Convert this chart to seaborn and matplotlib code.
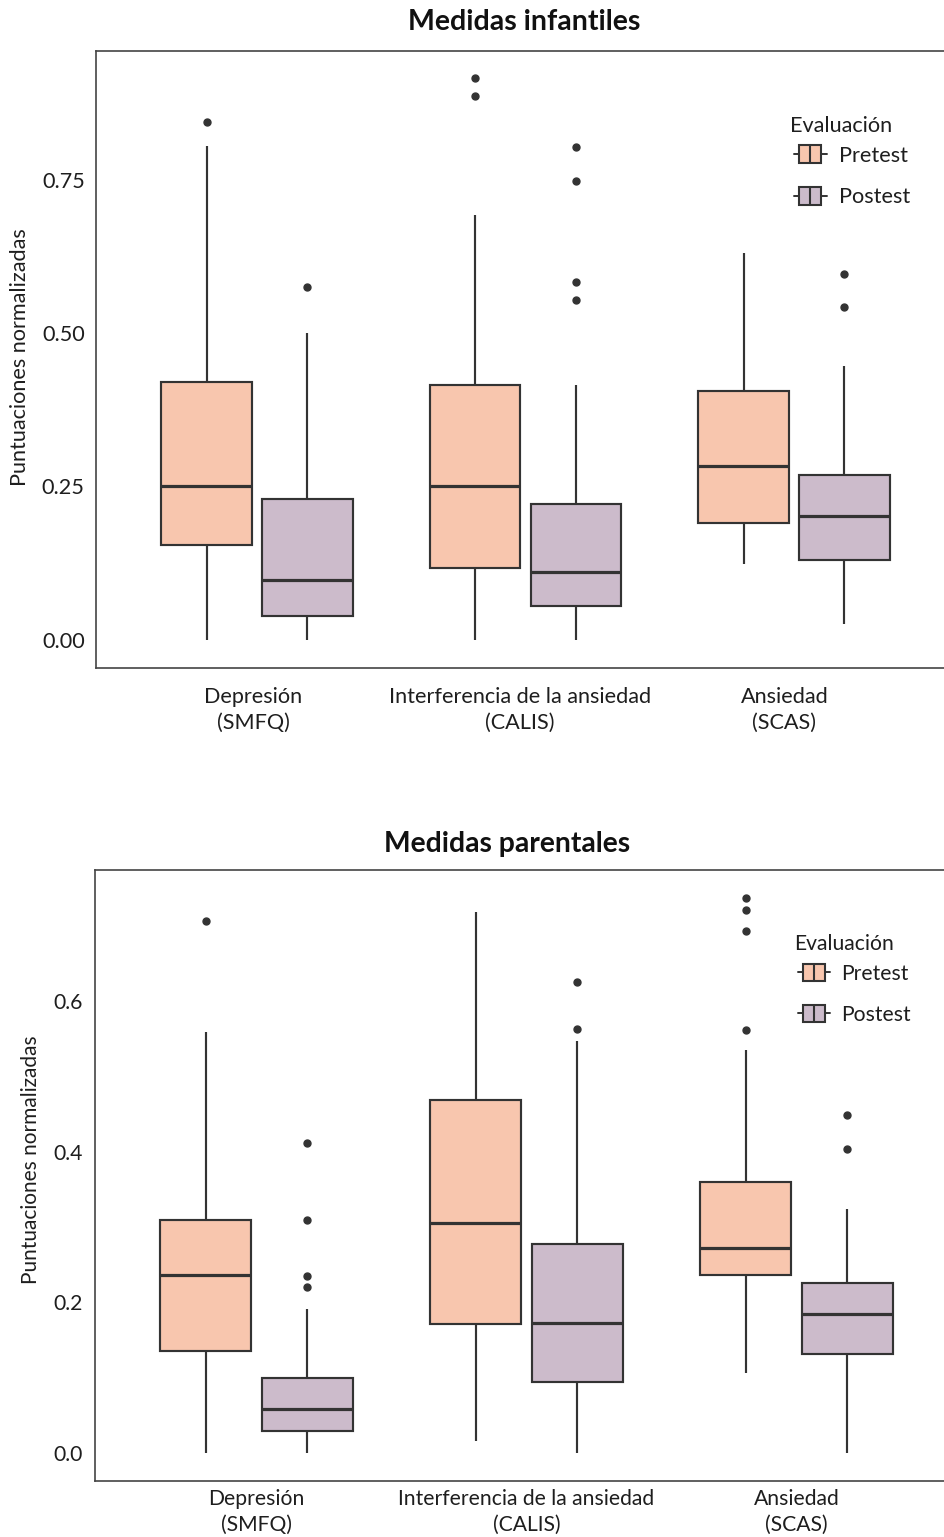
import numpy as np
import pandas as pd
import matplotlib
matplotlib.use("Agg")
import matplotlib.pyplot as plt
import seaborn as sns
from matplotlib.legend_handler import HandlerBase
from matplotlib.patches import Rectangle, Patch
from matplotlib.lines import Line2D
from matplotlib.transforms import ScaledTranslation

# ---------------- data ----------------
categories = ["Depresión\n(SMFQ)", "Interferencia de la ansiedad\n(CALIS)", "Ansiedad\n(SCAS)"]
groups = ["Pretest", "Postest"]
colors = ["#F8C6AE", "#CCBBCB"]

# Medidas infantiles: per category -> [Pretest, Postest]
inf_low = [[0.000, 0.000], [0.000, 0.000], [0.123, 0.026]]
inf_q1 = [[0.154, 0.038], [0.117, 0.054], [0.191, 0.130]]
inf_med = [[0.250, 0.097], [0.250, 0.110], [0.284, 0.202]]
inf_q3 = [[0.421, 0.230], [0.415, 0.222], [0.405, 0.269]]
inf_high = [[0.806, 0.500], [0.693, 0.416], [0.631, 0.446]]
inf_out = [[[0.845], [0.576]],
           [[0.888, 0.916], [0.555, 0.583, 0.749, 0.804]],
           [[], [0.543, 0.596]]]

# Medidas parentales
par_low = [[0.000, 0.000], [0.016, 0.000], [0.106, 0.000]]
par_q1 = [[0.136, 0.029], [0.172, 0.094], [0.237, 0.132]]
par_med = [[0.236, 0.059], [0.306, 0.173], [0.272, 0.185]]
par_q3 = [[0.309, 0.100], [0.469, 0.278], [0.360, 0.226]]
par_high = [[0.559, 0.191], [0.718, 0.547], [0.535, 0.324]]
par_out = [[[0.706], [0.221, 0.235, 0.309, 0.412]],
           [[], [0.563, 0.625]],
           [[0.561, 0.693, 0.720, 0.737], [0.404, 0.448]]]


def build_frame(low, q1, med, q3, high, out):
    """Rebuild observations whose box-plot statistics equal the read values."""
    rows = []
    for ci, cat in enumerate(categories):
        for gi, grp in enumerate(groups):
            vals = ([low[ci][gi]] + [q1[ci][gi]] * 20 + [med[ci][gi]] * 10 +
                    [q3[ci][gi]] * 20 + [high[ci][gi]] + list(out[ci][gi]))
            rows += [(cat, grp, v) for v in vals]
    return pd.DataFrame(rows, columns=["Medida", "Evaluación", "Puntuación"])


df_inf = build_frame(inf_low, inf_q1, inf_med, inf_q3, inf_high, inf_out)
df_par = build_frame(par_low, par_q1, par_med, par_q3, par_high, par_out)

# ---------------- style ----------------
sns.set_style("white")
FONT = ["Lato", "DejaVu Sans"]
plt.rcParams["font.family"] = FONT
LINE = "#333333"
SPINE = "#444444"
TEXT = "#1e1e1e"

W, H = 945, 1537
fig = plt.figure(figsize=(W / 100, H / 100), dpi=100)


def px_axes(left, right, top, bottom):
    return fig.add_axes([left / W, 1 - bottom / H, (right - left) / W, (bottom - top) / H])


class BoxKey(HandlerBase):
    shift = 3.0  # leading blank (points) before the key glyph

    def create_artists(self, legend, orig_handle, xdescent, ydescent, width, height, fontsize, trans):
        fc = orig_handle.get_facecolor()
        x0 = -xdescent + self.shift
        x1 = width - xdescent
        cx = (x0 + x1) / 2
        cy = height / 2 - ydescent
        bw = (x1 - x0) * 0.68
        bh = height * 1.1
        wl = Line2D([x0, x1], [cy, cy], color=LINE, lw=1.4, transform=trans)
        rect = Rectangle((cx - bw / 2, cy - bh / 2), bw, bh, facecolor=fc, edgecolor=LINE,
                         lw=1.5, transform=trans)
        ml = Line2D([cx, cx], [cy - bh / 2, cy + bh / 2], color=LINE, lw=1.5, transform=trans)
        return [wl, rect, ml]


def draw_panel(ax, df, ylim, yticks, ytick_labels, fs, legend_xy):
    sns.boxplot(data=df, x="Medida", y="Puntuación", hue="Evaluación",
                order=categories, hue_order=groups, palette=colors, saturation=1,
                width=0.75, gap=0.1, linecolor=LINE, linewidth=1.55,
                fliersize=5, showcaps=False,
                flierprops=dict(marker="o", markerfacecolor=LINE, markeredgecolor=LINE),
                medianprops=dict(linewidth=2.3, color=LINE),
                legend=False, ax=ax)
    ax.set_xlim(-0.6, 2.6)
    ax.set_ylim(*ylim)
    ax.set_yticks(yticks)
    ax.set_yticklabels(ytick_labels)
    ax.set_xlabel("")
    ax.set_ylabel("")
    for s in ax.spines.values():
        s.set_visible(True)
        s.set_color(SPINE)
        s.set_linewidth(1.2)
    ax.tick_params(axis="both", which="both", length=3.6, width=1.2, color=SPINE,
                   labelsize=fs, labelcolor=TEXT, direction="out")
    ax.tick_params(axis="y", pad=4.5)
    for lab in ax.get_xticklabels():
        lab.set_linespacing(1.36)
    handles = [Patch(facecolor=c, edgecolor=LINE, label=g) for g, c in zip(groups, colors)]
    leg = ax.legend(handles=handles, title="Evaluación", loc="upper left",
                    bbox_to_anchor=(legend_xy[0] / W, 1 - legend_xy[1] / H),
                    bbox_transform=fig.transFigure, frameon=False, fontsize=fs,
                    title_fontsize=fs, handler_map={Patch: BoxKey()},
                    handlelength=1.5 + BoxKey.shift / fs, handleheight=0.75,
                    handletextpad=0.55, labelspacing=1.0, borderpad=0,
                    borderaxespad=0, alignment="left")
    leg._legend_box.sep = 7.0
    for t in leg.get_texts():
        t.set_color(TEXT)
    leg.get_title().set_color(TEXT)


# ---------------- top panel ----------------
ax1 = px_axes(96, 955, 50.5, 667.5)
draw_panel(ax1, df_inf, (-0.0457, 0.9615), [0, 0.25, 0.5, 0.75],
           ["0.00", "0.25", "0.50", "0.75"], 15.6, (790, 116))
ax1.tick_params(axis="x", pad=10.5)
for lab, dx in zip(ax1.get_xticklabels(), [-3.5, -5.5, -9.5]):
    lab.set_transform(lab.get_transform() + ScaledTranslation(dx / 100, 0, fig.dpi_scale_trans))
fig.text(524 / W, 1 - 30 / H, "Medidas infantiles", ha="center", va="baseline",
         fontsize=20.5, fontweight="bold", color="#111111")
fig.text(20.5 / W, 1 - 357 / H, "Puntuaciones normalizadas", rotation=90,
         ha="center", va="center", fontsize=15.6, color=TEXT)

# ---------------- bottom panel ----------------
ax2 = px_axes(94.5, 958.5, 870, 1481)
draw_panel(ax2, df_par, (-0.0368, 0.7735), [0, 0.2, 0.4, 0.6],
           ["0.0", "0.2", "0.4", "0.6"], 15.2, (794, 934))
ax2.tick_params(axis="x", pad=2.5)
fig.text(507 / W, 1 - 852 / H, "Medidas parentales", ha="center", va="baseline",
         fontsize=20.3, fontweight="bold", color="#111111")
fig.text(31 / W, 1 - 1160 / H, "Puntuaciones normalizadas", rotation=90,
         ha="center", va="center", fontsize=15.0, color=TEXT)

fig.savefig("out.png", dpi=100, facecolor="white")
